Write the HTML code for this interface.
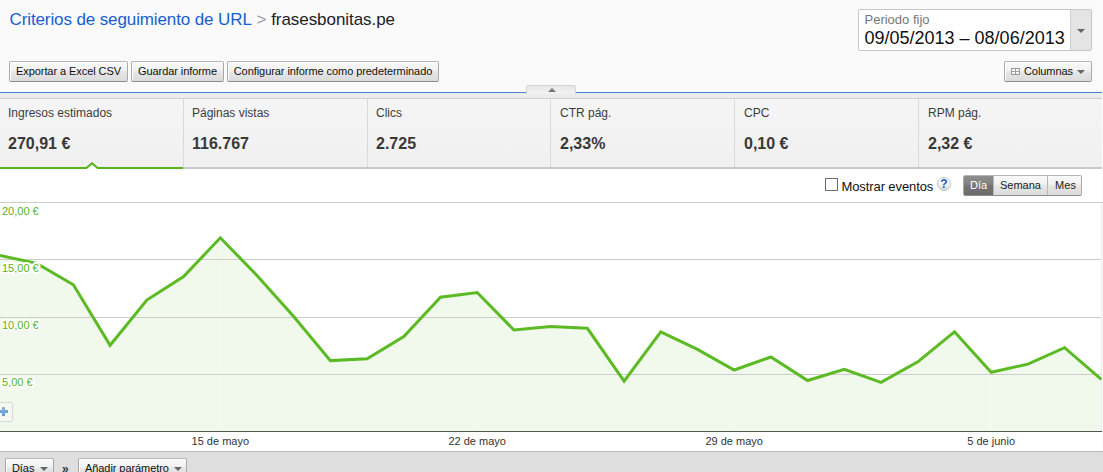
<!DOCTYPE html>
<html>
<head>
<meta charset="utf-8">
<style>
html,body{margin:0;padding:0;}
body{width:1103px;height:472px;overflow:hidden;background:#fafafa;position:relative;font-family:"Liberation Sans",sans-serif;color:#222;}
.abs{position:absolute;}
#title{left:9.5px;top:10px;font-size:17px;line-height:20px;white-space:nowrap;color:#222;}
#title .lnk{color:#1560d0;letter-spacing:-0.11px;}#title .dom{letter-spacing:-0.06px;}
#title .gt{color:#999;}
.btn{position:absolute;box-sizing:border-box;height:21px;border:1px solid;border-color:#b6b6b6 #a9a9a9 #8e8e8e #a9a9a9;border-radius:2px;background:linear-gradient(#f9f9f9,#f2f2f2 42%,#e6e6e6 52%,#dbdbdb);font-size:11px;letter-spacing:-0.07px;line-height:19px;color:#111;text-align:center;white-space:nowrap;box-shadow:inset 1px 1px 0 rgba(255,255,255,0.9);}
#datebox{left:858px;top:9px;width:234px;height:42px;box-sizing:border-box;border:1px solid #c6c6c6;background:#fff;border-radius:2px;}
#datebox .lab{position:absolute;left:5.5px;top:2px;font-size:13px;line-height:15px;color:#777;}
#datebox .val{position:absolute;left:5.5px;top:18px;font-size:18px;line-height:21px;color:#111;white-space:nowrap;}
#datebox .dd{position:absolute;right:0;top:0;width:20px;height:40px;background:#e4e4e4;border-left:1px solid #d0d0d0;}
.caret{position:absolute;width:0;height:0;border-left:4px solid transparent;border-right:4px solid transparent;border-top:4px solid #666;}
#strip{left:0;top:93px;width:1102px;height:5px;background:#ececec;}#blueline{left:0;top:92px;width:1102px;height:1px;background:#4a80d4;}
#handle{left:526px;top:85px;width:50px;height:9px;background:linear-gradient(#e6e6e6,#f3f3f3);border:1px solid #d4d4d4;border-bottom:none;border-radius:2px 2px 0 0;box-sizing:border-box;}
#tabs{left:0;top:98px;width:1103px;height:70px;background:linear-gradient(#f5f5f5,#f0f0f0);border-top:1px solid #cecece;box-sizing:border-box;}
.tab{position:absolute;top:0;height:68px;box-sizing:border-box;border-left:1px solid #d9d9d9;}
.tab .l{position:absolute;left:8px;top:7px;font-size:12px;line-height:14px;color:#3c3c3c;white-space:nowrap;}
.tab .v{position:absolute;left:8px;top:36px;font-size:16px;line-height:18px;font-weight:bold;color:#383838;white-space:nowrap;}
#tabline{left:0;top:167px;width:1102px;height:2px;background:#c8c8c8;}
#chartbg{left:0;top:169px;width:1103px;height:282px;background:#fff;}
#bottombar{left:0;top:451px;width:1103px;height:21px;background:#dedede;border-top:1px solid #b9b9b9;box-sizing:border-box;}

#ctrl{left:0;top:169px;width:1103px;height:33px;}
.cb{left:825px;top:9px;width:13px;height:13px;box-sizing:border-box;border:1px solid #6e6e6e;background:#fff;}
.me{left:841.5px;top:9.6px;font-size:13px;letter-spacing:-0.1px;line-height:16px;color:#111;white-space:nowrap;}
.help{left:937px;top:8px;width:14px;height:14px;border-radius:50%;border:1px solid #c4c4c4;background:linear-gradient(#ffffff,#f4f4f4 50%,#d6d6d6);color:#1a5cc8;font-size:12px;font-weight:bold;line-height:12px;text-align:center;box-sizing:border-box;}
.seg{left:963px;top:6px;width:119px;height:21px;box-sizing:border-box;border:1px solid;border-color:#b6b6b6 #a9a9a9 #8e8e8e #a9a9a9;border-radius:2px;background:linear-gradient(#f9f9f9,#f2f2f2 42%,#e6e6e6 52%,#dbdbdb);overflow:hidden;}
.seg .s{position:absolute;top:0;height:19px;font-size:11px;line-height:19px;text-align:center;color:#222;border-right:1px solid #b8b8b8;box-sizing:border-box;}
.seg .s.on{background:linear-gradient(#8e8e8e,#828282 42%,#737373 52%,#6c6c6c);color:#fff;}
#plus{left:-3px;top:402px;width:16px;height:20px;border:1px solid #dadada;border-radius:2px;background:#f5f7f0;box-sizing:border-box;}
#plus div:first-child{position:absolute;left:1px;top:7px;width:9px;height:3px;background:#74a3d2;}
#plus div:last-child{position:absolute;left:4px;top:4px;width:3px;height:9px;background:linear-gradient(#8db6dc,#6c9ccd);}
.gridic{left:6px;top:6px;width:9px;height:7px;box-sizing:border-box;border:1px solid #9a9a9a;background:#f6f6f6;}
.gridic i{position:absolute;left:3px;top:0;width:1px;height:5px;background:#a0a0a0;}
.gridic b{position:absolute;left:0;top:2px;width:7px;height:1px;background:#a0a0a0;}
#rcol{left:1102px;top:0;width:1px;height:472px;background:#fcfcfc;}
.tab.t2 .l,.tab.t2 .v{left:9px;}
</style>
</head>
<body>
<div id="title" class="abs"><span class="lnk">Criterios de seguimiento de URL</span> <span class="gt">&gt;</span> <span class="dom">frasesbonitas.pe</span></div>

<div class="btn" style="left:9px;top:61px;width:119px;">Exportar a Excel CSV</div>
<div class="btn" style="left:131px;top:61px;width:93px;">Guardar informe</div>
<div class="btn" style="left:227px;top:61px;width:212px;">Configurar informe como predeterminado</div>

<div id="datebox" class="abs">
  <div class="lab">Periodo fijo</div>
  <div class="val">09/05/2013 – 08/06/2013</div>
  <div class="dd"><div class="caret" style="left:6px;top:19px;"></div></div>
</div>
<div class="btn" style="left:1004px;top:61px;width:88px;text-align:left;padding-left:19px;">Columnas<div class="abs gridic"><i></i><b></b></div><div class="caret" style="left:72px;top:8px;"></div></div>

<div id="strip" class="abs"></div>
<div id="blueline" class="abs"></div>
<div id="handle" class="abs"><div class="abs" style="left:20.5px;top:2px;width:0;height:0;border-left:4px solid transparent;border-right:4px solid transparent;border-bottom:4px solid #787878;"></div></div>

<div id="tabs" class="abs">
  <div class="tab" style="left:0;width:183px;border-left:none;"><div class="l">Ingresos estimados</div><div class="v">270,91 €</div></div>
  <div class="tab" style="left:183px;width:184px;"><div class="l">Páginas vistas</div><div class="v">116.767</div></div>
  <div class="tab" style="left:367px;width:183px;"><div class="l">Clics</div><div class="v">2.725</div></div>
  <div class="tab t2" style="left:550px;width:184px;"><div class="l">CTR pág.</div><div class="v">2,33%</div></div>
  <div class="tab t2" style="left:734px;width:184px;"><div class="l">CPC</div><div class="v">0,10 €</div></div>
  <div class="tab t2" style="left:918px;width:184px;"><div class="l">RPM pág.</div><div class="v">2,32 €</div></div>
</div>
<div id="tabline" class="abs"></div>
<div id="chartbg" class="abs"></div>
<svg class="abs" style="left:0;top:155px;" width="190" height="16" viewBox="0 155 190 16">
  <polygon points="85,169 92,163 99,169" fill="#ffffff"/>
  <path d="M0,168 L86.4,168 L92,163.2 L97.6,168 L183,168" fill="none" stroke="#54b418" stroke-width="2" stroke-linejoin="miter"/>
</svg>
<div id="rcol" class="abs"></div>

<div id="ctrl" class="abs">
  <div class="abs cb"></div>
  <div class="abs me">Mostrar eventos</div>
  <div class="abs help">?</div>
  <div class="abs seg">
    <div class="s on" style="left:0;width:30px;">Día</div>
    <div class="s" style="left:30px;width:54px;">Semana</div>
    <div class="s" style="left:84px;width:35px;border-right:none;">Mes</div>
  </div>
</div>
<svg id="chart" class="abs" style="left:0;top:169px;" width="1103" height="282" viewBox="0 169 1103 282">
  <polygon fill="#5cb82a" fill-opacity="0.09" points="0,431 0.0,255.5 36.7,263.4 73.4,284.8 110.1,345.3 146.8,300.1 183.6,276.6 220.3,237.8 257.0,275.4 293.7,316.5 330.4,360.6 367.1,358.8 403.8,336.5 440.5,297.2 477.2,292.5 513.9,330.0 550.6,326.5 587.4,328.3 624.1,381.1 660.8,331.8 697.5,349.4 734.2,370.0 770.9,357.0 807.6,380.5 844.3,369.4 881.0,382.3 917.8,361.8 954.5,331.8 991.2,372.3 1027.9,364.1 1064.6,347.7 1101.3,379.4 1101.3,431"/>
  <g stroke="#ffffff" stroke-opacity="0.22" stroke-width="1" shape-rendering="crispEdges"><line x1="220.5" y1="203" x2="220.5" y2="431"/><line x1="477.5" y1="203" x2="477.5" y2="431"/><line x1="734.5" y1="203" x2="734.5" y2="431"/><line x1="991.5" y1="203" x2="991.5" y2="431"/></g>
  <g stroke="#cccccc" stroke-width="1" shape-rendering="crispEdges">
    <line x1="0" y1="202.5" x2="1103" y2="202.5"/>
    <line x1="0" y1="259.5" x2="1101" y2="259.5"/>
    <line x1="0" y1="317.5" x2="1101" y2="317.5"/>
    <line x1="0" y1="374.5" x2="1101" y2="374.5"/>
    <line x1="1101.5" y1="203" x2="1101.5" y2="431" stroke="#ececec"/>
  </g>
  <polyline fill="none" stroke="#5cba24" stroke-width="3" stroke-linejoin="miter" points="0.0,255.5 36.7,263.4 73.4,284.8 110.1,345.3 146.8,300.1 183.6,276.6 220.3,237.8 257.0,275.4 293.7,316.5 330.4,360.6 367.1,358.8 403.8,336.5 440.5,297.2 477.2,292.5 513.9,330.0 550.6,326.5 587.4,328.3 624.1,381.1 660.8,331.8 697.5,349.4 734.2,370.0 770.9,357.0 807.6,380.5 844.3,369.4 881.0,382.3 917.8,361.8 954.5,331.8 991.2,372.3 1027.9,364.1 1064.6,347.7 1101.3,379.4"/>
    <line x1="0" y1="431.5" x2="1102" y2="431.5" stroke="#555555" stroke-width="1" shape-rendering="crispEdges"/>
  <g font-family="Liberation Sans, sans-serif" font-size="11" fill="#58b41c" stroke="#ffffff" stroke-width="4" paint-order="stroke" stroke-linejoin="round">
    <text x="2" y="215">20,00 €</text>
    <text x="2" y="272">15,00 €</text>
    <text x="2" y="329">10,00 €</text>
    <text x="2" y="386">5,00 €</text>
  </g>
  <g font-family="Liberation Sans, sans-serif" font-size="11" fill="#333333" text-anchor="middle">
    <text x="220.3" y="444.5">15 de mayo</text>
    <text x="477.2" y="444.5">22 de mayo</text>
    <text x="734.2" y="444.5">29 de mayo</text>
    <text x="991.2" y="444.5">5 de junio</text>
  </g>
</svg>
<div id="plus" class="abs"><div></div><div></div></div>
<div id="bottombar" class="abs"></div>
<div class="btn" style="left:5px;top:458px;width:49px;height:20px;text-align:left;padding-left:6px;">Días<div class="caret" style="left:34px;top:8px;"></div></div>
<div class="abs" style="left:62px;top:460px;font-size:12px;font-weight:bold;line-height:18px;color:#333;">»</div>
<div class="btn" style="left:78px;top:458px;width:109px;height:20px;text-align:left;padding-left:6px;">Añadir parámetro<div class="caret" style="left:95px;top:8px;"></div></div>
</body>
</html>
